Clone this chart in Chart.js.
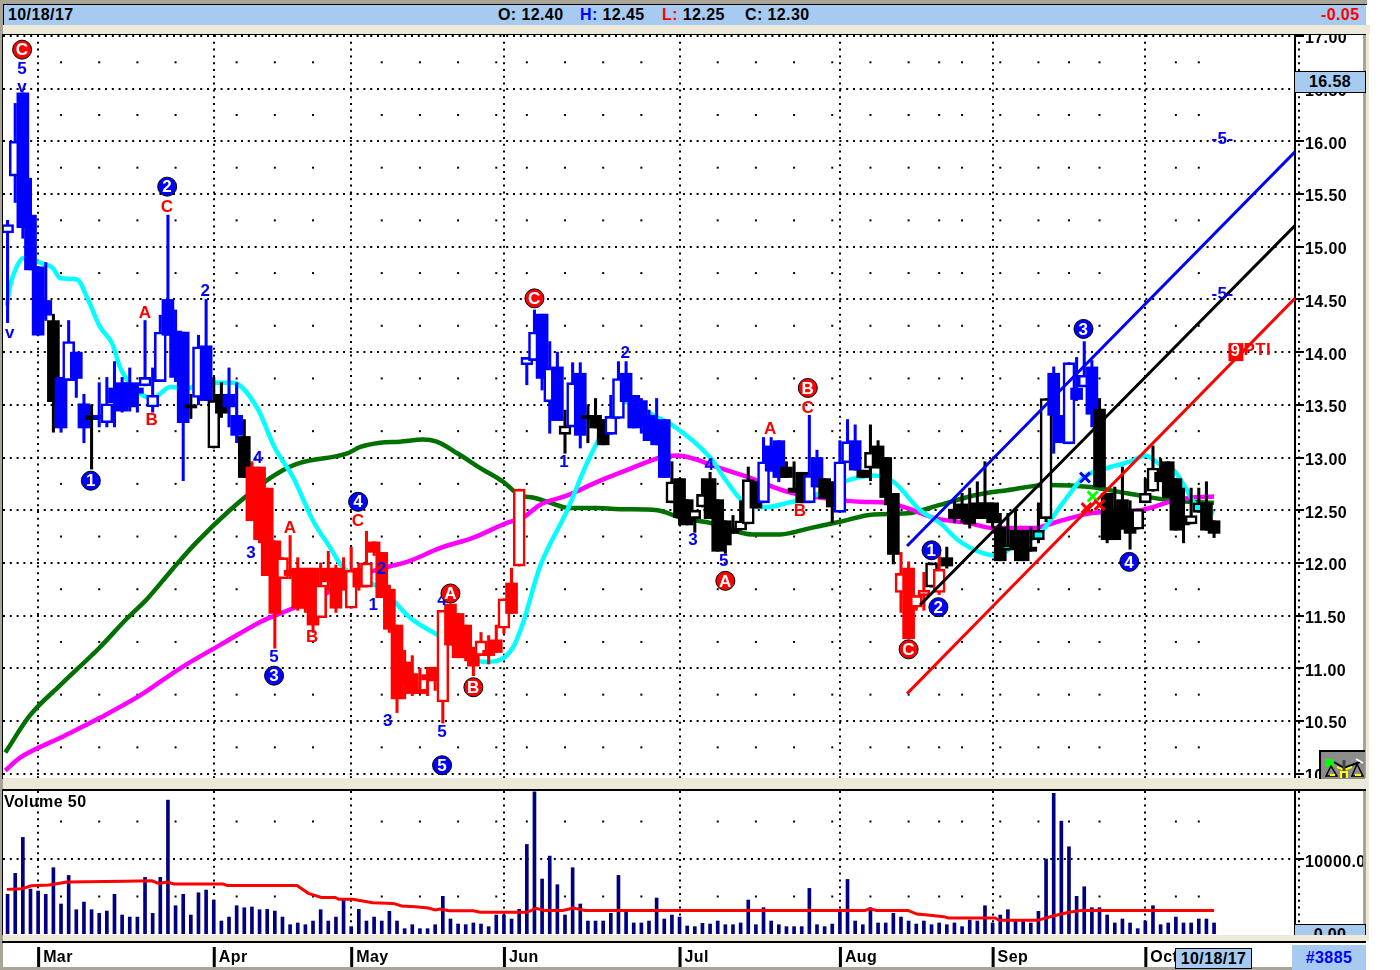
<!DOCTYPE html>
<html>
<head>
<meta charset="utf-8">
<title>10/18/17</title>
<script src="https://cdn.jsdelivr.net/npm/chart.js@4/dist/chart.umd.min.js"></script>
<style>
  html, body { margin: 0; padding: 0; background: #fff; overflow: hidden; }
  body { width: 1400px; height: 970px; position: relative; font: bold 16px "Liberation Sans", Arial, sans-serif; color: #000; letter-spacing: 0.4px; }
  .b { position: absolute; }
  .t { position: absolute; white-space: nowrap; line-height: 20px; }
  canvas { position: absolute; }
  .box { position: absolute; background: #A6CAF0; border: 1px solid #000; box-sizing: border-box; text-align: center; overflow: hidden; z-index: 5; }
</style>
</head>
<body>
<!-- window frame -->
<div class="b" style="left:0;top:0;width:1367px;height:4px;background:#A8A498"></div>
<div class="b" style="left:0;top:4px;width:1367px;height:1px;background:#000"></div>
<div class="b" style="left:0;top:0;width:3px;height:970px;background:#A8A498"></div>
<div class="b" style="left:3px;top:5px;width:1363px;height:20px;background:#A6CAF0;border-left:1px solid #000;box-sizing:border-box"></div>
<div class="b" style="left:3px;top:25px;width:1367px;height:9px;background:#ECE9D8"></div>
<div class="b" style="left:3px;top:34px;width:1363px;height:1px;background:#000"></div>
<div class="b" style="left:2px;top:34px;width:1px;height:745px;background:#000"></div>
<div class="b" style="left:1363px;top:35px;width:3px;height:743px;background:#A8A498"></div>
<div class="b" style="left:1366px;top:25px;width:3px;height:915px;background:#ECE9D8"></div>
<div class="b" style="left:3px;top:778px;width:1366px;height:11px;background:#ECE9D8"></div>
<div class="b" style="left:2px;top:789px;width:1364px;height:2px;background:#000"></div>
<div class="b" style="left:2px;top:789px;width:1px;height:146px;background:#000"></div>
<div class="b" style="left:1363px;top:791px;width:3px;height:144px;background:#A8A498"></div>
<div class="b" style="left:3px;top:935px;width:1366px;height:6px;background:#ECE9D8"></div>
<div class="b" style="left:2px;top:941px;width:1364px;height:2px;background:#000"></div>
<div class="b" style="left:0;top:967px;width:1292px;height:3px;background:#A8A498"></div>

<!-- quote line -->
<div class="t" style="left:8px;top:5px">10/18/17</div>
<div class="t" style="left:498px;top:5px">O: 12.40</div>
<div class="t" style="left:580px;top:5px"><span style="color:#00f">H:</span> 12.45</div>
<div class="t" style="left:662px;top:5px"><span style="color:#f00">L:</span> 12.25</div>
<div class="t" style="left:745px;top:5px">C: 12.30</div>
<div class="t" style="left:1321px;top:5px;color:#f00">-0.05</div>

<canvas id="price-chart" width="1360" height="743" style="left:3px;top:35px"></canvas>
<canvas id="volume-chart" width="1360" height="176" style="left:3px;top:791px"></canvas>

<div class="t" style="left:4px;top:792px;z-index:4">Volume 50</div>
<div class="box" style="left:1294px;top:71px;width:72px;height:22px;line-height:20px">16.58</div>
<div class="box" style="left:1294px;top:924px;width:72px;height:11px;line-height:19px;border-bottom:0">0.00</div>
<div class="box" style="left:1175px;top:948px;width:77px;height:21px;line-height:19px">10/18/17</div>
<div class="box" style="left:1292px;top:945px;width:74px;height:25px;line-height:26px;color:#00f;border:0">#3885</div>

<!-- small toolbar picture of a scale -->
<svg class="b" style="left:1319px;top:750px;z-index:5" width="46" height="29" viewBox="0 0 46 29">
  <rect width="46" height="29" fill="#8c8c8c"/>
  <path d="M0 1H46M1 0V29" stroke="#000" stroke-width="2"/>
  <rect x="6" y="9" width="9" height="8" fill="#0f0"/>
  <path d="M15 12L25 18L41 12" stroke="#000" stroke-width="2" fill="none"/>
  <path d="M18 17L25 20L33 17" stroke="#ff0" stroke-width="2" fill="none"/>
  <path d="M25 10V28" stroke="#444" stroke-width="3"/>
  <path d="M22 28V22H28V28" stroke="#ff0" stroke-width="2" fill="none"/>
  <path d="M12 16L7 26H18ZM38 14L33 26H44Z" stroke="#000" stroke-width="1.5" fill="none"/>
  <path d="M11 25H16M36 25H42" stroke="#ff0" stroke-width="2"/>
  <path d="M37 9L44 13" stroke="#fff" stroke-width="2"/>
</svg>

<script>
// Daily candles
const opens = [
  15.13,15.67,16.46,15.30,14.81,14.49,14.30,13.76,13.73,14.00,13.51,13.40,13.40,13.33,13.66,13.71,13.71,13.66,13.68,13.48,
  13.72,14.50,14.20,14.19,13.50,13.57,14.06,13.09,13.60,13.60,13.40,13.20,12.91,12.91,12.71,12.21,11.85,11.93,11.95,11.95,
  11.95,11.48,11.95,11.95,11.93,11.57,11.95,11.77,12.20,12.10,11.75,11.41,11.06,10.95,10.80,10.94,11.01,10.68,11.61,11.52,
  11.41,11.20,11.12,11.17,11.27,11.38,11.81,11.97,13.88,13.92,14.36,13.53,13.86,13.22,13.29,13.80,13.40,13.40,13.36,13.22,
  13.37,13.80,13.59,13.54,13.40,13.35,13.36,12.57,12.80,12.60,12.42,12.53,12.80,12.60,12.40,12.33,12.31,12.37,12.77,12.57,
  13.11,13.16,12.91,12.71,12.86,12.57,13.00,12.80,12.77,12.48,12.95,13.16,12.88,12.90,13.11,13.00,12.66,11.72,11.95,11.58,
  11.69,11.77,11.72,12.05,12.51,12.56,12.51,12.57,12.57,12.57,12.34,12.12,12.31,12.31,12.15,12.22,12.42,13.80,13.40,13.13,
  13.66,13.67,13.86,13.46,12.66,12.50,12.60,12.51,12.32,12.57,12.68,12.86,12.96,12.80,12.40,12.37,12.48,12.57,12.40
];
const highs = [
  15.25,16.36,16.46,15.65,14.81,14.85,14.36,13.76,14.30,14.00,13.60,13.50,13.71,13.76,13.91,13.76,13.85,13.71,14.30,13.85,
  14.35,15.30,14.40,14.19,13.60,14.16,14.50,13.76,13.71,13.85,13.71,13.36,12.96,12.91,12.71,12.21,12.05,12.26,12.05,11.95,
  11.95,12.00,12.11,11.98,12.05,12.15,12.00,12.30,12.20,12.10,11.79,11.41,11.17,11.12,11.00,11.01,11.01,11.55,11.61,11.52,
  11.41,11.20,11.34,11.31,11.41,11.66,11.95,12.70,13.95,14.40,14.36,14.10,14.00,13.45,13.90,13.90,13.50,13.56,13.36,13.59,
  13.91,13.91,13.59,13.56,13.45,13.56,13.36,12.96,12.80,12.60,12.50,12.80,12.86,12.60,12.40,12.45,12.59,12.91,12.77,13.19,
  13.19,13.16,12.96,12.96,12.86,13.40,13.07,12.80,12.77,13.16,13.36,13.31,12.88,13.31,13.16,13.00,12.66,12.10,12.01,11.69,
  11.91,12.00,12.10,12.15,12.60,12.66,12.71,12.77,12.96,12.57,12.47,12.47,12.50,12.31,12.34,12.57,13.56,13.86,13.40,13.90,
  13.95,14.10,13.92,13.56,12.66,12.72,12.91,12.59,12.51,12.80,13.11,12.99,12.96,12.80,12.71,12.71,12.71,12.77,12.40
];
const lows = [
  14.28,15.42,15.08,14.78,14.16,14.30,13.24,13.24,13.73,13.57,13.14,12.89,13.29,13.29,13.29,13.43,13.44,13.43,13.68,13.43,
  13.72,14.16,13.72,12.78,13.37,13.50,13.54,13.09,13.38,13.29,13.14,12.81,12.40,12.19,11.88,11.19,11.85,11.85,11.55,11.53,
  11.34,11.48,11.74,11.53,11.74,11.57,11.74,11.77,12.07,11.67,11.34,10.58,10.71,10.74,10.76,10.74,10.79,10.48,11.22,11.10,
  11.07,10.93,11.12,11.04,11.15,11.33,11.52,11.97,13.69,13.92,13.64,13.23,13.35,13.04,13.29,13.09,13.14,13.28,13.12,13.22,
  13.37,13.53,13.28,13.23,13.16,13.12,12.81,12.57,12.36,12.36,12.29,12.53,12.42,12.11,12.09,12.28,12.31,12.37,12.52,12.57,
  12.87,12.77,12.81,12.67,12.57,12.57,12.72,12.61,12.38,12.48,12.95,12.88,12.81,12.78,12.90,12.55,11.99,11.53,11.28,11.55,
  11.55,11.77,11.70,11.95,12.38,12.38,12.33,12.42,12.42,12.33,12.02,12.12,12.02,12.02,12.11,12.19,12.39,13.04,13.14,13.13,
  13.54,13.67,13.29,12.72,12.19,12.22,12.32,12.13,12.32,12.57,12.68,12.77,12.62,12.31,12.19,12.37,12.48,12.31,12.24
];
const closes = [
  15.21,16.00,15.18,14.78,14.16,14.35,13.53,13.28,14.10,13.75,13.28,13.36,13.37,13.51,13.52,13.44,13.48,13.61,13.76,13.59,
  14.19,14.16,13.76,13.33,13.47,14.05,13.54,13.54,13.42,13.48,13.21,12.81,12.40,12.22,11.88,11.52,12.05,11.88,11.57,11.57,
  11.41,11.79,11.82,11.57,11.85,11.93,11.77,12.00,12.10,11.67,11.37,10.71,10.87,10.76,10.76,10.89,10.88,11.55,11.22,11.10,
  11.10,11.02,11.26,11.12,11.15,11.66,11.52,12.70,13.95,14.19,13.75,13.85,13.35,13.30,13.71,13.21,13.37,13.28,13.12,13.39,
  13.75,13.53,13.28,13.31,13.16,13.12,12.81,12.77,12.43,12.36,12.50,12.65,12.42,12.11,12.17,12.28,12.40,12.79,12.52,12.96,
  12.87,12.81,12.81,12.67,12.57,12.83,12.72,12.61,12.53,12.96,13.15,12.88,12.81,13.05,12.90,12.62,12.08,11.90,11.28,11.69,
  11.74,12.00,11.94,11.97,12.42,12.42,12.37,12.42,12.42,12.38,12.02,12.17,12.14,12.02,12.11,12.31,13.56,13.40,13.14,13.90,
  13.55,13.78,13.41,12.72,12.22,12.22,12.32,12.28,12.51,12.66,12.90,12.77,12.62,12.31,12.36,12.45,12.57,12.31,12.28
];
// trend colour of each candle: b = blue, k = black, r = red
const candleTrend = (
  'bbbbbbkbbbbkbbbbbbbbbbbbkbbkkbbk' +
  'rrrrrrrrrrrrrrrrrrrrrrrrrrrrrrrrrrrr' +
  'bbbbbkbbkkkbbbbbbbb' + 'kkkkkkkkkkkk' + 'bbbkkkbbkkbbbkkkkk' + 'rrrrkr' +
  'kkkkkkkkkkkkkk' + 'bbbbbb' + 'kkkkkkkkkkkkkkkk'
).split('');
const cyanBoxes = [131, 135, 156];

// Moving averages, read at the bends of each line
const cyanDays = [-0.1,0.3,1.2,2,4.6,5.9,6.9,9.1,10.4,12.1,13.7,14.7,16.4,19,21.3,23.9,25.2,29.5,32.7,35,37.4,40,42.2,43.9,49.2,52.7,56,58.9,62.3,64.1,66.2,67.5,69.7,73.3,75.9,78.5,80.6,85.1,87,92,94.2,96.2,99.5,102.1,105.1,109,113.4,116,119.5,122.1,124.4,127.8,129.6,131.6,135.2,138.2,140.9,144.4,147,149,151,152.7,154.2,155.8,158];
const cyanValues = [14.44,14.62,14.81,14.89,14.84,14.80,14.70,14.69,14.52,14.24,14.08,13.86,13.67,13.56,13.67,13.66,13.71,13.71,13.47,13.09,12.81,12.40,12.15,11.96,11.74,11.48,11.33,11.22,11.06,11.07,11.20,11.43,11.96,12.50,12.95,13.31,13.53,13.38,13.31,13.00,12.77,12.59,12.53,12.57,12.62,12.76,12.83,12.77,12.50,12.38,12.22,12.09,12.07,12.15,12.28,12.57,12.81,12.91,12.96,13.02,12.93,12.88,12.72,12.53,12.47];
const magentaDays = [-0.3,1.6,6.9,12.1,17.3,22.6,27.8,33.1,34,37.4,40.9,44.5,46.2,49.2,52.7,56.6,61,65.4,67.5,69.7,73.3,77.6,81.1,85.5,87.7,93.3,96.3,98.6,100.3,102.9,107.3,111.7,115.2,117.8,121.7,125.7,129.1,134.3,137.5,141.8,148.3,152.7,155.3,158];
const magentaValues = [10.03,10.15,10.34,10.53,10.74,11.00,11.22,11.44,11.47,11.57,11.69,11.79,11.88,11.95,12.02,12.14,12.24,12.38,12.43,12.55,12.64,12.78,12.88,13.00,13.02,12.90,12.83,12.77,12.72,12.66,12.61,12.58,12.57,12.52,12.42,12.38,12.33,12.33,12.39,12.47,12.50,12.59,12.62,12.63];
const greenDays = [-0.3,2.9,6.9,12.1,15.6,18.3,21.7,24.8,29.1,33.5,36.6,38.3,44.5,46.2,48.8,51.4,54.4,56.2,58.9,61.9,64.9,67.1,68.8,70.7,73.7,77.2,80.6,85.1,88.1,92,97.6,101.2,105.1,109,113.4,117.8,122.1,126.5,130.9,136.2,141.8,146.6,152.7,158];
const greenValues = [10.20,10.55,10.84,11.20,11.47,11.66,11.95,12.20,12.50,12.76,12.90,12.95,13.04,13.10,13.14,13.15,13.17,13.15,13.04,12.90,12.77,12.64,12.62,12.58,12.52,12.52,12.51,12.50,12.43,12.38,12.27,12.27,12.33,12.39,12.46,12.47,12.55,12.64,12.69,12.74,12.72,12.66,12.59,12.57];

// Trend channel, two ends each
const trendDays = [[117.8,168.6],[119.5,168.6],[117.8,168.6]];
const trendValues = [[12.16,15.90],[11.60,15.20],[10.76,14.51]];
const trendColors = ['#0000FF','#000000','#FF0000'];

// Signal crosses near the breakout
const signalDays = [141.1,142.1,141.3,143];
const signalValues = [12.81,12.63,12.52,12.55];
const signalColors = ['#0000FF','#00FF00','#FF0000','#FF0000'];

// Daily volume and its 50 day average
const volumes = [
  5290,8080,12880,5990,5730,5290,8840,4000,7810,3240,4260,3240,2750,3060,5290,2530,2260,2260,7550,2750,
  7550,17850,3770,5290,2530,5500,5860,4530,1730,2260,3770,3500,3600,3240,3290,3060,2260,1240,1470,1240,
  1730,3240,1730,2260,4530,980,3290,1730,2260,1730,3020,1730,710,1240,710,710,1240,5020,2000,1330,
  1240,1470,1330,980,2530,2530,2000,3290,11940,18960,7330,10390,6570,2530,8840,4000,1730,1730,1730,2750,
  7810,2970,1470,1470,1730,4800,2000,2530,2260,1070,980,1420,1330,1730,1240,1240,1470,4530,1240,3510,
  1730,1240,980,980,980,6080,1240,980,1330,3200,7280,1730,1240,3510,1470,1470,2750,2260,1730,1330,
  1730,1240,1470,1240,1470,980,1860,1730,3770,1470,2530,3240,1730,1730,1470,3020,9990,18740,15050,11630,
  5020,6300,3510,3510,2530,1470,2000,1470,710,1730,3770,1240,1470,2260,1470,1470,2000,2000,1470
];
const volAvgDays = [-0.1,1.9,3.1,5.4,7.8,15.4,18.9,19.8,20.9,21.8,28.2,28.8,37.9,39.4,41.1,42.9,43.4,45.2,47.8,50.5,51.6,53.4,55.1,56,56.6,57.8,61,61.9,68,69.2,70.3,72.7,74.1,75.6,112.3,112.9,113.8,117.9,119.1,120.5,122.6,123.2,129.3,129.9,134.9,136.9,139,140.7,158];
const volAvgValues = [5950,6040,6440,6530,6930,7020,7100,6750,6930,6660,6660,6480,6480,5420,4880,4880,4620,4620,4170,4080,3730,3640,3460,3200,3330,3110,3110,2890,2890,3420,3150,3150,3460,3150,3150,3370,3150,3150,2660,2530,2310,2130,2130,1820,1820,2400,2890,3150,3150];

// Axes
const monthDays = [4,27,45,65,88,109,129,149];
const monthNames = ['Mar','Apr','May','Jun','Jul','Aug','Sep','Oct'];
const weekDays = [7,12,17,22,30,35,40,49,54,59,64,68,73,78,83,93,98,103,108,113,118,122,125,130,135,139,143,153,156];
const priceTicks = [10,10.5,11,11.5,12,12.5,13,13.5,14,14.5,15,15.5,16,16.5,17];
const priceDotRows = [10.25,10.75,11.25,11.75,12.25,12.75,13.25,13.75,14.25,14.75,15.25,15.75,16.25,16.75];
const volumeTicks = [10000];
const volumeDotRows = [5000,15000];

// Wave count marks: day, price, text
const redCircles = [[1.9,16.87,'C'],[69,14.51,'C'],[58,11.71,'A'],[61,10.82,'B'],[94,11.83,'A'],[104.8,13.66,'B'],[118,11.18,'C']];
const blueCircles = [[20.9,15.57,'2'],[10.9,12.78,'1'],[34.9,10.93,'3'],[45.9,12.58,'4'],[56.9,10.08,'5'],[121,12.12,'1'],[121.9,11.58,'2'],[140.9,14.22,'3'],[146.9,12.01,'4']];
const blueLabels = [[1.9,16.69,'5'],[1.9,16.52,'v'],[0.3,14.19,'v'],[25.9,14.59,'2'],[32.8,13,'4'],[31.9,12.1,'3'],[34.9,11.11,'5'],[47.9,11.61,'1'],[49,11.95,'2'],[49.8,10.51,'3'],[56.9,11.65,'4'],[56.9,10.4,'5'],[72.9,12.96,'1'],[80.9,14,'2'],[91.9,12.94,'4'],[89.8,12.22,'3'],[93.8,12.02,'5'],[159.1,16.03,'-5-'],[159.1,14.56,'-5-']];
const redLabels = [[18,14.38,'A'],[18.9,13.36,'B'],[20.9,15.38,'C'],[37,12.34,'A'],[39.9,11.3,'B'],[45.9,12.4,'C'],[99.9,13.28,'A'],[104.8,13.48,'C'],[103.8,12.5,'B']];

Chart.defaults.font.family = '"Liberation Sans", Arial, sans-serif';
Chart.defaults.font.weight = 'bold';
Chart.defaults.font.size = 16;
Chart.defaults.color = '#000';

const trendColor = { b: '#0000FF', k: '#000000', r: '#FF0000' };
const DOTS = [2, 4.8];

function bodyFill(i) {
  if (cyanBoxes.includes(i)) return '#00FFFF';
  return closes[i] > opens[i] ? '#FFFFFF' : trendColor[candleTrend[i]];
}

function lineData(days, values) {
  return days.map((d, i) => ({ x: d, y: values[i] }));
}

// the plot has to fill the canvas exactly, so drop the room chart.js keeps for label overhang
function noOverhang(s) {
  s.paddingLeft = 0;
  s.paddingRight = 0;
  s.paddingTop = 0;
  s.paddingBottom = 0;
}

// x axis shared by both panels: ticks only on the month starts
function xAxis(height, ticks) {
  return {
    type: 'linear',
    min: -0.6,
    max: 168.6,
    offset: false,
    afterBuildTicks: s => { s.ticks = monthDays.map(v => ({ value: v })); },
    afterFit: s => { s.height = height; noOverhang(s); },
    ticks: ticks,
    grid: { color: '#000', lineWidth: 2, drawTicks: false, offset: false },
    border: { display: false, dash: DOTS }
  };
}

function yAxis(min, max, tickList, digits, labelOffset) {
  return {
    type: 'linear',
    position: 'right',
    min: min,
    max: max,
    afterBuildTicks: s => { s.ticks = tickList.map(v => ({ value: v })); },
    afterFit: s => { s.width = 68; noOverhang(s); },
    ticks: { padding: 1, labelOffset: labelOffset, callback: v => v.toFixed(digits) },
    grid: { color: '#000', lineWidth: 2, tickLength: 9, tickColor: '#000', tickWidth: 2, tickBorderDash: [] },
    border: { display: true, color: '#000', width: 2, dash: DOTS }
  };
}

// sparse dots between the dotted rows, plus the dotted column next to the axis
function panelDots(dotRows) {
  return {
    id: 'panelDots',
    beforeDatasetsDraw(chart) {
      const { ctx, chartArea, scales } = chart;
      ctx.save();
      ctx.fillStyle = '#000';
      dotRows.forEach(r => {
        const y = scales.y.getPixelForValue(r);
        weekDays.forEach(d => ctx.fillRect(scales.x.getPixelForValue(d) - 1, y - 1, 2, 2));
      });
      ctx.strokeStyle = '#000';
      ctx.lineWidth = 2;
      ctx.setLineDash(DOTS);
      ctx.beginPath();
      ctx.moveTo(chartArea.right + 4, chartArea.top);
      ctx.lineTo(chartArea.right + 4, chartArea.bottom);
      ctx.stroke();
      ctx.restore();
    }
  };
}

// wave count letters and circles, and the 9 PTI flag
const waveMarks = {
  id: 'waveMarks',
  afterDatasetsDraw(chart) {
    const { ctx, scales } = chart;
    const px = d => scales.x.getPixelForValue(d);
    const py = v => scales.y.getPixelForValue(v);
    ctx.save();
    ctx.textAlign = 'center';
    ctx.textBaseline = 'middle';
    ctx.font = 'bold 17px "Liberation Sans", Arial, sans-serif';
    blueLabels.forEach(m => { ctx.fillStyle = '#0000FF'; ctx.fillText(m[2], px(m[0]), py(m[1]) + 1); });
    redLabels.forEach(m => { ctx.fillStyle = '#FF0000'; ctx.fillText(m[2], px(m[0]), py(m[1]) + 1); });
    function circle(m, color) {
      ctx.beginPath();
      ctx.arc(px(m[0]), py(m[1]), 9.5, 0, Math.PI * 2);
      ctx.fillStyle = color;
      ctx.fill();
      ctx.lineWidth = 1;
      ctx.strokeStyle = '#000';
      ctx.stroke();
      ctx.fillStyle = '#fff';
      ctx.fillText(m[2], px(m[0]), py(m[1]) + 1);
    }
    redCircles.forEach(m => circle(m, '#FF0000'));
    blueCircles.forEach(m => circle(m, '#0000FF'));
    // PTI flag at the end of the red channel line
    const fx = px(160.8), fy = py(14);
    ctx.fillStyle = '#FF0000';
    ctx.fillRect(fx - 7, fy - 9, 15, 18);
    ctx.fillStyle = '#fff';
    ctx.fillText('9', fx, fy - 1);
    ctx.fillStyle = '#FF0000';
    ctx.textAlign = 'left';
    ctx.fillText('PTI', fx + 8, fy - 2);
    ctx.restore();
  }
};

// black month marks on the date strip
const monthMarks = {
  id: 'monthMarks',
  afterDraw(chart) {
    const { ctx, scales } = chart;
    ctx.save();
    ctx.fillStyle = '#000';
    monthDays.forEach(d => ctx.fillRect(scales.x.getPixelForValue(d) - 1, 156, 3, 20));
    ctx.restore();
  }
};

const priceDatasets = [
  { type: 'line', data: lineData(greenDays, greenValues), borderColor: '#007000', order: 9 },
  { type: 'line', data: lineData(magentaDays, magentaValues), borderColor: '#FF00FF', order: 8 },
  { type: 'line', data: lineData(cyanDays, cyanValues), borderColor: '#00FFFF', order: 7 },
  {
    type: 'bar',
    order: 5,
    grouped: false,
    barThickness: 2.4,
    data: highs.map((h, i) => ({ x: i, y: [lows[i], h] })),
    backgroundColor: candleTrend.map(c => trendColor[c])
  },
  {
    type: 'bar',
    order: 4,
    grouped: false,
    barThickness: 12,
    borderSkipped: false,
    data: opens.map((o, i) => ({ x: i, y: [Math.min(o, closes[i]), Math.max(o, closes[i])] })),
    backgroundColor: opens.map((o, i) => bodyFill(i)),
    borderColor: candleTrend.map(c => trendColor[c]),
    borderWidth: opens.map((o, i) => (closes[i] > o ? 2.6 : 0))
  }
];
trendDays.forEach((days, i) => {
  priceDatasets.push({ type: 'line', data: lineData(days, trendValues[i]), borderColor: trendColors[i], borderWidth: 3, order: 2 });
});
priceDatasets.push({
  type: 'scatter',
  order: 1,
  data: lineData(signalDays, signalValues),
  pointStyle: 'crossRot',
  pointRadius: 7,
  pointBorderWidth: 3,
  pointBorderColor: signalColors
});

new Chart(document.getElementById('price-chart'), {
  data: { datasets: priceDatasets },
  options: {
    responsive: false,
    animation: false,
    devicePixelRatio: 1,
    events: [],
    layout: { padding: 0, autoPadding: false },
    datasets: { line: { pointRadius: 0, borderWidth: 4.5, cubicInterpolationMode: 'monotone' } },
    plugins: { legend: { display: false }, tooltip: { enabled: false } },
    scales: {
      x: xAxis(0, { display: false }),
      y: yAxis(9.959, 17.009, priceTicks, 2, 3)
    }
  },
  plugins: [panelDots(priceDotRows), waveMarks]
});

new Chart(document.getElementById('volume-chart'), {
  data: {
    datasets: [
      {
        type: 'line',
        order: 1,
        data: lineData(volAvgDays, volAvgValues),
        borderColor: '#FF0000',
        borderWidth: 3,
        pointRadius: 0
      },
      {
        type: 'bar',
        order: 2,
        grouped: false,
        barThickness: 3,
        data: volumes.map((v, i) => ({ x: i, y: v })),
        backgroundColor: '#000080'
      }
    ]
  },
  options: {
    responsive: false,
    animation: false,
    devicePixelRatio: 1,
    events: [],
    layout: { padding: 0, autoPadding: false },
    plugins: { legend: { display: false }, tooltip: { enabled: false } },
    scales: {
      x: xAxis(33, {
        align: 'start',
        padding: 14,
        labelOffset: 5,
        maxRotation: 0,
        autoSkip: false,
        callback: v => monthNames[monthDays.indexOf(v)]
      }),
      y: yAxis(0, 19067, volumeTicks, 2, 4)
    }
  },
  plugins: [panelDots(volumeDotRows), monthMarks]
});
</script>
</body>
</html>
